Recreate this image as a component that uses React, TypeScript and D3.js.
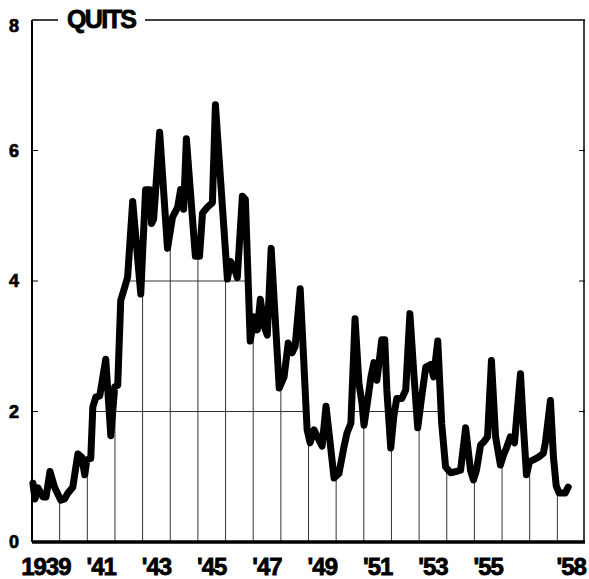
import React from "react";
import * as d3 from "d3";

// months since Jan 1939
const monthsSince1939 = [
  0.4, 1.3, 2.6, 4.8, 6.1, 7.8, 9.8, 12.5, 14.1, 15.6, 17.7, 19.9, 21.6, 22.9, 23.8,
  25.5, 26.4, 27.7, 29.4, 30.3, 32.0, 34.2, 35.9, 37.2, 38.5, 40.2, 41.5, 43.7, 47.2,
  48.0, 49.3, 51.1, 51.9, 52.8, 55.4, 58.8, 61.0, 63.2, 64.5, 65.8, 67.0, 70.9, 72.7,
  74.0, 76.1, 78.3, 79.6, 84.8, 86.1, 87.8, 89.1, 91.3, 92.6, 94.7, 96.5, 97.8, 99.1,
  100.8, 102.1, 103.8, 107.3, 109.4, 111.2, 112.9, 114.2, 116.4, 119.4, 120.7, 122.4,
  124.6, 125.9, 127.6, 129.4, 131.1, 133.2, 135.4, 136.7, 138.4, 140.2, 141.9, 143.2,
  144.1, 145.4, 147.1, 148.4, 149.7, 151.8, 153.1, 154.0, 155.7, 157.0, 158.3, 160.5,
  162.2, 164.0, 165.7, 167.4, 169.1, 170.9, 173.0, 174.3, 176.1, 177.8, 179.5, 181.7,
  183.9, 186.0, 188.2, 190.3, 191.6, 192.9, 194.7, 196.0, 197.7, 199.4, 201.2, 203.3,
  204.6, 205.9, 207.6, 209.4, 212.0, 213.3, 214.6, 215.9, 217.6, 219.8, 221.9, 222.8,
  225.0, 226.3, 227.5, 228.8, 231.4, 232.7,
];

// quit rate per 100 employees
const quitRate = [
  0.9, 0.66, 0.83, 0.69, 0.69, 1.08, 0.84, 0.64, 0.66, 0.75, 0.84, 1.35, 1.3, 1.03, 1.26,
  1.28, 2.07, 2.22, 2.24, 2.43, 2.8, 1.63, 2.38, 2.4, 3.7, 3.9, 4.06, 5.22, 3.8,
  4.43, 5.4, 5.4, 4.88, 4.95, 6.28, 4.5, 4.98, 5.13, 5.4, 5.1, 6.18, 4.38, 4.38,
  5.04, 5.13, 5.2, 6.7, 4.03, 4.3, 4.2, 4.05, 5.3, 5.25, 3.08, 3.45, 3.25, 3.72,
  3.3, 3.17, 4.5, 2.36, 2.53, 3.05, 2.9, 3.0, 3.88, 1.72, 1.52, 1.72,
  1.56, 1.47, 2.08, 1.52, 0.98, 1.05, 1.46, 1.67, 1.82, 3.42, 2.43, 2.13,
  1.79, 2.1, 2.53, 2.75, 2.48, 3.1, 3.1, 2.33, 1.44, 1.92, 2.2, 2.2,
  2.33, 3.5, 2.59, 1.75, 2.22, 2.68, 2.72, 2.53, 3.08, 1.82, 1.15, 1.06,
  1.08, 1.1, 1.75, 1.1, 0.95, 1.1, 1.49, 1.53, 1.61, 2.78, 1.61, 1.18,
  1.33, 1.44, 1.61, 1.52, 2.58, 1.76, 1.03, 1.23, 1.26, 1.3, 1.36, 1.52,
  2.17, 1.3, 0.86, 0.75, 0.75, 0.84,
];

const yTicks = [0, 2, 4, 6, 8];
const innerTicks = [2, 4, 6];
const gridValues = [2, 4];
const gridYears = d3.range(1940, 1959);
const labelYears = [1939, 1941, 1943, 1945, 1947, 1949, 1951, 1953, 1955, 1958];
const labelText = ["1939", "'41", "'43", "'45", "'47", "'49", "'51", "'53", "'55", "'58"];

const font = "'Liberation Sans', Arial, sans-serif";

const App = () => {
  const width = 589;
  const height = 579;
  const margin = { top: 20, right: 4, bottom: 37, left: 32 };

  const x = d3.scaleLinear()
    .domain([0, 240])
    .range([margin.left, width - margin.right]);
  const y = d3.scaleLinear()
    .domain([0, 8])
    .range([height - margin.bottom, margin.top]);

  const points: [number, number][] = monthsSince1939.map((m, i) => [m, quitRate[i]]);

  const line = d3.line<[number, number]>()
    .x(d => x(d[0]))
    .y(d => y(d[1]));
  const area = d3.area<[number, number]>()
    .x(d => x(d[0]))
    .y0(y(0))
    .y1(d => y(d[1]));

  const x0 = x(0), x1 = x(240), yTop = y(8), yBot = y(0);

  return (
    <div style={{ position: "absolute", left: 0, top: 0 }}>
      <svg width={width} height={height} style={{ display: "block", background: "white" }}>
        <defs>
          <clipPath id="under">
            <path d={area(points) || ""} />
          </clipPath>
        </defs>

        {/* grid, only under the curve */}
        <g clipPath="url(#under)" stroke="#333" strokeWidth="1">
          {gridYears.map(yr =>
            <line key={yr} x1={x((yr - 1939) * 12)} x2={x((yr - 1939) * 12)} y1={yBot} y2={yTop} />)}
          {gridValues.map(v =>
            <line key={v} x1={x0} x2={x1} y1={y(v)} y2={y(v)} />)}
        </g>

        {/* frame */}
        <line x1={x0} x2={x0} y1={yTop} y2={yBot} stroke="black" strokeWidth="2" />
        <line x1={x1 - 1} x2={x1 - 1} y1={yTop} y2={yBot} stroke="black" strokeWidth="1.5" />
        <line x1={x0} x2={58} y1={yTop} y2={yTop} stroke="black" strokeWidth="1.5" />
        <line x1={145} x2={x1} y1={yTop} y2={yTop} stroke="black" strokeWidth="1.5" />
        <line x1={x0} x2={x1} y1={yBot} y2={yBot} stroke="black" strokeWidth="3.5" />
        {innerTicks.map(v =>
          <g key={v} stroke="black" strokeWidth="1">
            <line x1={x0} x2={x0 + 6} y1={y(v)} y2={y(v)} />
            <line x1={x1 - 6} x2={x1} y1={y(v)} y2={y(v)} />
          </g>)}

        <text x={67} y={28} fontFamily={font} fontWeight="bold" fontSize="25"
          letterSpacing="-1.6" fill="black" stroke="black" strokeWidth="0.8">QUITS</text>

        {yTicks.map((v, i) =>
          <text key={v} x={14} y={y(v) + (i === yTicks.length - 1 ? 6 : 0)} dy="0.36em"
            textAnchor="middle" fontFamily={font} fontWeight="bold" fontSize="18"
            fill="black" stroke="black" strokeWidth="0.7">
            {v}
          </text>)}

        {labelYears.map((yr, i) =>
          <text key={yr} x={x((yr - 1939) * 12 + 6)} y={575} textAnchor="middle"
            fontFamily={font} fontWeight="bold" fontSize="24" letterSpacing="-1"
            fill="black" stroke="black" strokeWidth="0.8">
            {labelText[i]}
          </text>)}

        <path d={line(points) || ""} fill="none" stroke="black" strokeWidth="7"
          strokeLinejoin="round" strokeLinecap="round" />
      </svg>
    </div>
  );
};

export default App;
